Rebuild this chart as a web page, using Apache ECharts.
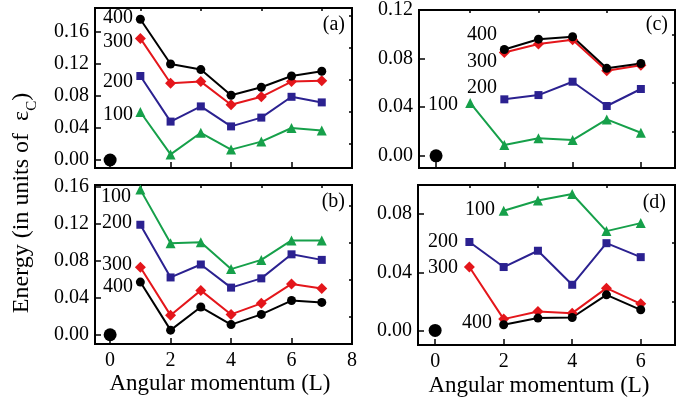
<!DOCTYPE html>
<html>
<head>
<meta charset="utf-8">
<script src="https://cdn.jsdelivr.net/npm/echarts@6/dist/echarts.min.js"></script>
<style>html,body{margin:0;padding:0;background:#fff}#c{width:697px;height:398px}</style>
</head>
<body>
<div id="c"></div>
<script>
// ---- data ----
const L_ab = [1, 2, 3, 4, 5, 6, 7];
const a400 = [0.176, 0.120, 0.113, 0.081, 0.091, 0.105, 0.111];
const a300 = [0.152, 0.096, 0.098, 0.069, 0.079, 0.098, 0.099];
const a200 = [0.105, 0.048, 0.067, 0.042, 0.053, 0.079, 0.072];
const a100 = [0.060, 0.007, 0.034, 0.013, 0.023, 0.040, 0.037];

const b100 = [0.157, 0.099, 0.100, 0.071, 0.081, 0.102, 0.102];
const b200 = [0.119, 0.062, 0.076, 0.051, 0.061, 0.087, 0.081];
const b300 = [0.073, 0.021, 0.048, 0.022, 0.034, 0.055, 0.050];
const b400 = [0.057, 0.005, 0.030, 0.011, 0.022, 0.037, 0.035];

const L_cd_full = [1, 2, 3, 4, 5, 6];
const L_cd_part = [2, 3, 4, 5, 6];
const c400 = [0.0875, 0.096, 0.098, 0.072, 0.076];
const c300 = [0.085, 0.092, 0.0955, 0.070, 0.0745];
const c200 = [0.0465, 0.050, 0.061, 0.041, 0.055];
const c100 = [0.0435, 0.009, 0.0145, 0.013, 0.030, 0.019];

const d100 = [0.0823, 0.0894, 0.0938, 0.0683, 0.0738];
const d200 = [0.0608, 0.0436, 0.0548, 0.0314, 0.0600, 0.0504];
const d300 = [0.0436, 0.0078, 0.0131, 0.0119, 0.0291, 0.0183];
const d400 = [0.0039, 0.0085, 0.0089, 0.0245, 0.0142];

const ground = [[0, 0]];
const seriesNames = ['100', '200', '300', '400'];
const panelLetters = ['(a)', '(b)', '(c)', '(d)'];
const xMajorAB = [0, 2, 4, 6, 8];
const xMinorAB = [1, 3, 5, 7];
const xMajorCD = [0, 2, 4, 6];
const xMinorCD = [1, 3, 5];
const yMajorAB = [0, 0.04, 0.08, 0.12, 0.16];
const yMinorA = [0.02, 0.06, 0.10, 0.14, 0.18];
const yMinorB = [0.02, 0.06, 0.10, 0.14];
const yMajorC = [0, 0.04, 0.08, 0.12];
const yMinorC = [0.02, 0.06, 0.10];
const yMajorD = [0, 0.04, 0.08];
const yMinorD = [0.02, 0.06];

const FONT = '"Liberation Serif", "Times New Roman", serif';
const colors = { '100': '#16a04a', '200': '#2b2190', '300': '#e4161b', '400': '#000000' };
const symbols = { '100': ['triangle', 10], '200': ['rect', 8], '300': ['diamond', 11], '400': ['circle', 9] };
const TICK_COLOR = '#000';

const zip = (xs, ys) => ys.map((y, i) => [xs[i], y]);

const panels = [
  { grid: { left: 95, top: 8, width: 257, height: 160 }, x: [-0.5, 8], y: [-0.01, 0.19],
    xMaj: xMajorAB, xMin: xMinorAB, yMaj: yMajorAB, yMin: yMinorA, xLabels: false,
    data: { '100': zip(L_ab, a100), '200': zip(L_ab, a200), '300': zip(L_ab, a300), '400': zip(L_ab, a400) } },
  { grid: { left: 95, top: 185, width: 257, height: 159 }, x: [-0.5, 8], y: [-0.01, 0.162],
    xMaj: xMajorAB, xMin: xMinorAB, yMaj: yMajorAB, yMin: yMinorB, xLabels: true,
    data: { '100': zip(L_ab, b100), '200': zip(L_ab, b200), '300': zip(L_ab, b300), '400': zip(L_ab, b400) } },
  { grid: { left: 419, top: 9, width: 256, height: 159 }, x: [-0.5, 7], y: [-0.01, 0.12],
    xMaj: xMajorCD, xMin: xMinorCD, yMaj: yMajorC, yMin: yMinorC, xLabels: false,
    data: { '100': zip(L_cd_full, c100), '200': zip(L_cd_part, c200), '300': zip(L_cd_part, c300), '400': zip(L_cd_part, c400) } },
  { grid: { left: 418, top: 185, width: 257, height: 160 }, x: [-0.5, 7], y: [-0.01, 0.10],
    xMaj: xMajorCD, xMin: xMinorCD, yMaj: yMajorD, yMin: yMinorD, xLabels: true,
    data: { '100': zip(L_cd_part, d100), '200': zip(L_cd_full, d200), '300': zip(L_cd_full, d300), '400': zip(L_cd_part, d400) } }
];

// Each panel: axis 2i carries labels + major ticks, axis 2i+1 carries minor ticks only.
const grids = [], xAxes = [], yAxes = [], series = [];
panels.forEach((p, i) => {
  grids.push(Object.assign({ show: true, borderColor: '#000', borderWidth: 2 }, p.grid));
  xAxes.push({ type: 'value', gridIndex: i, min: p.x[0], max: p.x[1],
    axisLine: { show: true, onZero: false, lineStyle: { color: '#000', width: 2 } }, splitLine: { show: false },
    axisTick: { show: true, inside: true, length: 6, customValues: p.xMaj, lineStyle: { color: TICK_COLOR, width: 1.5 } },
    axisLabel: { show: p.xLabels, customValues: p.xMaj, margin: 7, color: '#000', fontSize: 20, fontFamily: FONT } });
  xAxes.push({ type: 'value', gridIndex: i, min: p.x[0], max: p.x[1],
    axisLine: { show: true, onZero: false, lineStyle: { color: '#000', width: 2 } }, splitLine: { show: false },
    axisTick: { show: true, inside: true, length: 3, customValues: p.xMin, lineStyle: { color: TICK_COLOR, width: 1.5 } },
    axisLabel: { show: false } });
  yAxes.push({ type: 'value', gridIndex: i, min: p.y[0], max: p.y[1],
    axisLine: { show: true, onZero: false, lineStyle: { color: '#000', width: 2 } }, splitLine: { show: false },
    axisTick: { show: true, inside: true, length: 6, customValues: p.yMaj, lineStyle: { color: TICK_COLOR, width: 1.5 } },
    axisLabel: { show: true, customValues: p.yMaj, margin: 6, color: '#000', fontSize: 20, fontFamily: FONT,
      formatter: v => v.toFixed(2) } });
  yAxes.push({ type: 'value', gridIndex: i, min: p.y[0], max: p.y[1],
    axisLine: { show: true, onZero: false, lineStyle: { color: '#000', width: 2 } }, splitLine: { show: false },
    axisTick: { show: true, inside: true, length: 3, customValues: p.yMin, lineStyle: { color: TICK_COLOR, width: 1.5 } },
    axisLabel: { show: false } });

  seriesNames.forEach(n => {
    series.push({ type: 'line', name: n + '-' + i, xAxisIndex: 2 * i, yAxisIndex: 2 * i,
      data: p.data[n], symbol: symbols[n][0], symbolSize: symbols[n][1], showAllSymbol: true,
      lineStyle: { color: colors[n], width: 2 }, itemStyle: { color: colors[n], borderWidth: 0 },
      emphasis: { disabled: true }, animation: false, z: 3 });
  });
  series.push({ type: 'scatter', xAxisIndex: 2 * i, yAxisIndex: 2 * i, data: ground,
    symbol: 'circle', symbolSize: 13, itemStyle: { color: '#000', opacity: 1 },
    emphasis: { disabled: true }, animation: false, z: 4 });
});

const txt = (text, x, y, align, size) => ({ type: 'text', x: x, y: y, z: 10,
  style: { text: text, fill: '#000', font: (size || 20) + 'px ' + FONT, align: align || 'right', verticalAlign: 'middle' } });

const graphic = [
  txt(seriesNames[3], 133, 18), txt(seriesNames[2], 133, 42), txt(seriesNames[1], 133, 82), txt(seriesNames[0], 133, 115),
  txt(seriesNames[0], 131, 197), txt(seriesNames[1], 132, 223), txt(seriesNames[2], 132, 265), txt(seriesNames[3], 133, 287),
  txt(seriesNames[3], 497, 35), txt(seriesNames[2], 497, 62), txt(seriesNames[1], 497, 88), txt(seriesNames[0], 458, 105),
  txt(seriesNames[0], 495, 210), txt(seriesNames[1], 458, 242), txt(seriesNames[2], 458, 268), txt(seriesNames[3], 492, 323),
  txt(panelLetters[0], 345, 25), txt(panelLetters[1], 345, 202), txt(panelLetters[2], 668, 25), txt(panelLetters[3], 666, 203),
  txt('Angular momentum (L)', 220, 384, 'center', 23),
  txt('Angular momentum (L)', 539, 386, 'center', 23),
  { type: 'text', x: 22, y: 203, rotation: Math.PI / 2, z: 10,
    style: { text: '{m|Energy (in units of  ε}{s|C}{m|)}', align: 'center', verticalAlign: 'middle',
      rich: { m: { font: '24px ' + FONT, fill: '#000', verticalAlign: 'bottom' },
              s: { font: '15px ' + FONT, fill: '#000', verticalAlign: 'bottom', padding: [0, 0, -6, 0] } } } }
];

const chart = echarts.init(document.getElementById('c'), null, { renderer: 'canvas' });
chart.setOption({ animation: false, grid: grids, xAxis: xAxes, yAxis: yAxes, series: series, graphic: graphic });
</script>
</body>
</html>
